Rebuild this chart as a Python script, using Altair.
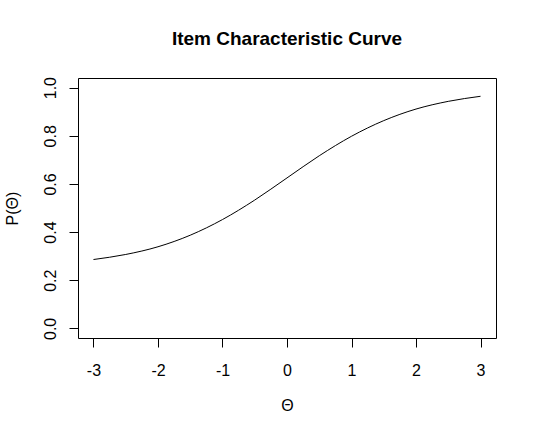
import altair as alt
import pandas as pd

theta = [-3.0, -2.5, -2.0, -1.5, -1.0, -0.5, 0.0, 0.5, 1.0, 1.5, 2.0, 2.5, 3.0]
prob = [0.286, 0.307, 0.339, 0.387, 0.452, 0.533, 0.625, 0.717, 0.798, 0.863, 0.911, 0.943, 0.964]
x_ticks = [-3, -2, -1, 0, 1, 2, 3]
y_ticks = [0.0, 0.2, 0.4, 0.6, 0.8, 1.0]

df = pd.DataFrame({"theta": theta, "p": prob})

FONT = "Liberation Sans"

chart = alt.Chart(df).mark_line(color="black", strokeWidth=1, interpolate="monotone").encode(
    x=alt.X("theta:Q",
            scale=alt.Scale(domain=[-3.24, 3.24], nice=False, zero=False),
            axis=alt.Axis(values=x_ticks, title="Θ", grid=False, domain=False,
                          labelExpr="datum.value < 0 ? '-' + abs(datum.value) : '' + datum.value",
                          tickSize=9, tickColor="black", labelFontSize=16, labelColor="black",
                          labelFont=FONT, labelPadding=15, labelBaseline="top",
                          titleFont=FONT, titleFontSize=16, titleFontWeight="normal",
                          titleColor="black", titleY=67, titleBaseline="middle")),
    y=alt.Y("p:Q",
            scale=alt.Scale(domain=[-0.04, 1.04], nice=False, zero=False),
            axis=alt.Axis(values=y_ticks, format=".1f", title="P(Θ)", grid=False, domain=False,
                          tickSize=9, tickColor="black", labelFontSize=16, labelColor="black",
                          labelFont=FONT, labelAngle=270, labelAlign="center",
                          labelBaseline="bottom", labelPadding=11,
                          titleFont=FONT, titleFontSize=16, titleFontWeight="normal",
                          titleColor="black", titleAngle=270, titleX=-66, titleY=130,
                          titleBaseline="middle", titleAlign="center")),
).properties(
    width=418,
    height=260,
    title=alt.TitleParams("Item Characteristic Curve", font=FONT, fontSize=19,
                          fontWeight="bold", color="black", anchor="middle", offset=28),
    autosize=alt.AutoSizeParams(type="none"),
    padding={"left": 78, "top": 78, "right": 41, "bottom": 99},
).configure(
    background="white",
    view=alt.ViewConfig(stroke="black", strokeWidth=1),
)

chart.save("out.html", embed_options={"renderer": "svg", "actions": False})
